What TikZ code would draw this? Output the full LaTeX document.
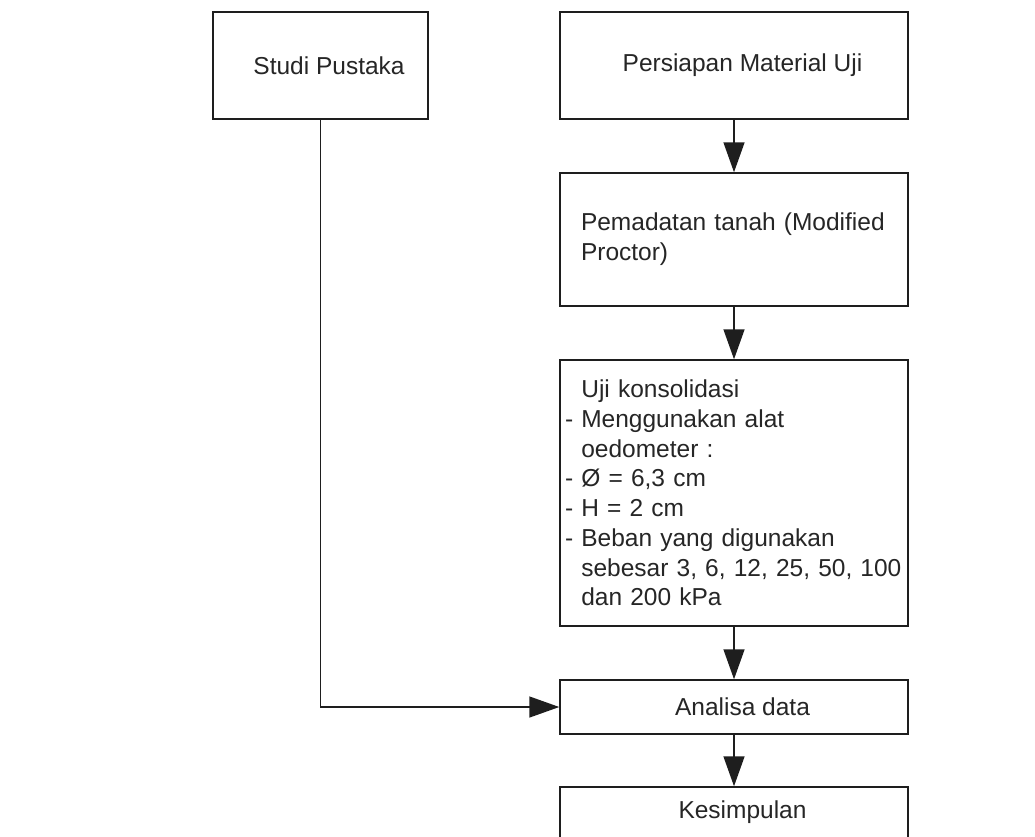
\documentclass[tikz,border=0pt]{standalone}
\usepackage{fontspec}
\setmainfont{Liberation Sans}
\usetikzlibrary{arrows.meta}
\definecolor{linec}{HTML}{1E1E1E}
\definecolor{textc}{HTML}{262626}
\newcommand{\boxfont}{\fontsize{24.5}{29.7}\selectfont}
\newcommand{\ind}{\hphantom{- }}
\tikzset{
  box/.style={draw=linec, line width=1.5pt, inner sep=0pt, text=textc, font=\boxfont, anchor=center},
  arr/.style={draw=linec, line width=1.5pt, -{Triangle[length=30pt,width=21pt]}},
}
\begin{document}
\begin{tikzpicture}[x=1pt,y=-1pt]
\useasboundingbox (0,0) rectangle (1035,836);
\clip (0,0) rectangle (1035,836);
\fill[white] (0,0) rectangle (1035,836);

\node[box, minimum width=215pt, minimum height=107pt] (studi) at (320.5,65.5) {\hspace*{17pt}Studi Pustaka};
\node[box, minimum width=348pt, minimum height=107pt] (persiapan) at (734,65.5) {\hspace*{17pt}Persiapan Material Uji};
\node[box, minimum width=348pt, minimum height=133pt, text width=306pt, align=left] (pemadatan) at (734,239.5)
  {Pemadatan tanah (Modified\\Proctor)};
\node[box, minimum width=348pt, minimum height=266pt, text width=338pt, align=left] (uji) at (734,493)
  {\ind Uji konsolidasi\\
   - Menggunakan alat\\
   \ind oedometer :\\
   - Ø = 6,3 cm\\
   - H = 2 cm\\
   - Beban yang digunakan\\
   \ind sebesar 3, 6, 12, 25, 50, 100\\
   \ind dan 200 kPa};
\node[box, minimum width=348pt, minimum height=54pt] (analisa) at (734,707) {\hspace*{17pt}Analisa data};
\node[box, minimum width=348pt, minimum height=51pt] (kesimpulan) at (734,812.5) {\hspace*{17pt}Kesimpulan};

\draw[arr] (persiapan.south) -- (pemadatan.north);
\draw[arr] (pemadatan.south) -- (uji.north);
\draw[arr] (uji.south) -- (analisa.north);
\draw[arr] (analisa.south) -- (kesimpulan.north);
\draw[arr] (studi.south) |- (analisa.west);
\end{tikzpicture}
\end{document}
